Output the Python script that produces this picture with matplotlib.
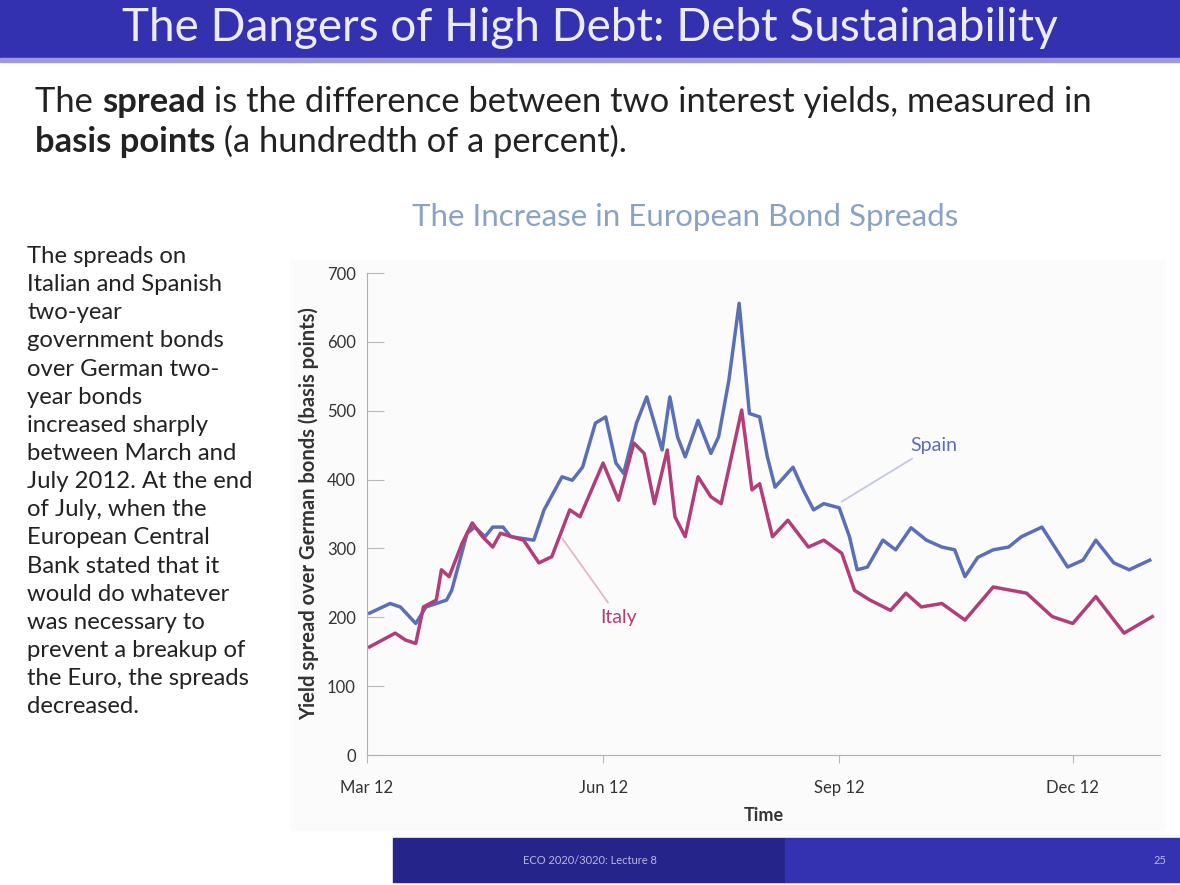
import matplotlib.pyplot as plt
import matplotlib.dates as mdates
from matplotlib.patches import Rectangle
import numpy as np

plt.rcParams['font.family'] = ['Lato', 'DejaVu Sans']

# data (basis points)
spain_dates = ['2012-03-02', '2012-03-10', '2012-03-14', '2012-03-20', '2012-03-24',
               '2012-04-01', '2012-04-03', '2012-04-09', '2012-04-12', '2012-04-16',
               '2012-04-19', '2012-04-23', '2012-04-26', '2012-05-05', '2012-05-09',
               '2012-05-16', '2012-05-20', '2012-05-24', '2012-05-29', '2012-06-02',
               '2012-06-06', '2012-06-09', '2012-06-14', '2012-06-18', '2012-06-21',
               '2012-06-24', '2012-06-27', '2012-06-30', '2012-07-03', '2012-07-08',
               '2012-07-13', '2012-07-16', '2012-07-20', '2012-07-24', '2012-07-28',
               '2012-08-01', '2012-08-04', '2012-08-07', '2012-08-14', '2012-08-18',
               '2012-08-22', '2012-08-26', '2012-09-01', '2012-09-05', '2012-09-08',
               '2012-09-12', '2012-09-18', '2012-09-23', '2012-09-29', '2012-10-05',
               '2012-10-11', '2012-10-16', '2012-10-20', '2012-10-25', '2012-10-31',
               '2012-11-06', '2012-11-11', '2012-11-19', '2012-11-29', '2012-12-05',
               '2012-12-10', '2012-12-17', '2012-12-23', '2012-12-31']
spain = [206, 220, 215, 191, 215, 225, 239, 322, 331, 317,
         331, 331, 317, 312, 356, 404, 399, 418, 482, 491,
         424, 409, 482, 520, 482, 443, 520, 462, 433, 486,
         438, 462, 544, 656, 496, 491, 433, 389, 418, 385,
         356, 365, 359, 317, 269, 273, 312, 298, 330, 312,
         302, 298, 259, 287, 298, 302, 317, 331, 273, 283,
         312, 279, 269, 283]

italy_dates = ['2012-03-02', '2012-03-12', '2012-03-16', '2012-03-20', '2012-03-23',
               '2012-03-28', '2012-03-30', '2012-04-02', '2012-04-07', '2012-04-11',
               '2012-04-15', '2012-04-19', '2012-04-22', '2012-05-01', '2012-05-07',
               '2012-05-12', '2012-05-19', '2012-05-23', '2012-06-01', '2012-06-07',
               '2012-06-13', '2012-06-17', '2012-06-21', '2012-06-26', '2012-06-29',
               '2012-07-03', '2012-07-08', '2012-07-13', '2012-07-17', '2012-07-25',
               '2012-07-29', '2012-08-01', '2012-08-06', '2012-08-12', '2012-08-20',
               '2012-08-26', '2012-09-02', '2012-09-07', '2012-09-13', '2012-09-21',
               '2012-09-27', '2012-10-03', '2012-10-11', '2012-10-20', '2012-10-31',
               '2012-11-13', '2012-11-23', '2012-12-01', '2012-12-10', '2012-12-21',
               '2013-01-01']
italy = [157, 177, 167, 162, 215, 225, 269, 259, 307, 337,
         317, 302, 322, 312, 279, 288, 356, 346, 424, 370,
         453, 438, 365, 443, 346, 317, 404, 375, 365, 501,
         385, 394, 317, 341, 302, 312, 293, 239, 225, 210,
         235, 215, 220, 196, 244, 235, 201, 191, 230, 177,
         201]

y_ticks = [0, 100, 200, 300, 400, 500, 600, 700]
x_ticks = ['2012-03-01', '2012-06-01', '2012-09-01', '2012-12-01']

side_text = ("The spreads on\nItalian and Spanish\ntwo-year\ngovernment bonds\n"
             "over German two-\nyear bonds\nincreased sharply\nbetween March and\n"
             "July 2012. At the end\nof July, when the\nEuropean Central\n"
             "Bank stated that it\nwould do whatever\nwas necessary to\n"
             "prevent a breakup of\nthe Euro, the spreads\ndecreased.")

W, H = 1180, 885
fig = plt.figure(figsize=(W / 100, H / 100), dpi=100)


def fx(px):
    return px / W


def fy(py):
    return 1 - py / H


def band(x0, y0, x1, y1, col):
    # rectangle given in pixel corners (top-left origin)
    fig.patches.append(Rectangle((fx(x0), fy(y1)), fx(x1 - x0), (y1 - y0) / H,
                                 transform=fig.transFigure, color=col, zorder=-5))


# slide decorations
band(0, 0, W, 58, '#3431b0')
band(0, 58, W, 62, '#9c9ad6')
band(290, 260, 1165, 830, '#fbfbfb')
band(393, 838, 785, 882, '#25248a')
band(785, 838, W, 882, '#3432b0')

fig.text(0.5, fy(28), 'The Dangers of High Debt: Debt Sustainability',
         ha='center', va='center', fontsize=33, color='#ececf8')

ax = fig.add_axes([fx(367), fy(755), fx(1160 - 367), (755 - 273) / H])
ax.set_facecolor('none')


def chain(pieces, x, y, size):
    prev = fig.text(x, y, pieces[0][0], fontsize=size, fontweight=pieces[0][1],
                    color='#222222', ha='left', va='center')
    for txt, weight in pieces[1:]:
        prev = ax.annotate(txt, xy=(1, 0), xycoords=prev, fontsize=size,
                           fontweight=weight, color='#222222',
                           ha='left', va='bottom', annotation_clip=False)


chain([('The ', 'normal'), ('spread', 'bold'),
       (' is the difference between two interest yields, measured in', 'normal')],
      fx(35), fy(102), 24.8)
chain([('basis points', 'bold'), (' (a hundredth of a percent).', 'normal')],
      fx(35), fy(142), 24.8)

fig.text(fx(27), fy(246), side_text, ha='left', va='top', fontsize=17.2,
         linespacing=1.42, color='#222222')

fig.text(fx(685), fy(217), 'The Increase in European Bond Spreads',
         ha='center', va='center', fontsize=22.5, color='#8aa3c4')

sd = np.array(spain_dates, dtype='datetime64[D]')
idt = np.array(italy_dates, dtype='datetime64[D]')
ax.plot(sd, spain, color='#5b6fb6', lw=2.5, solid_joinstyle='round')
ax.plot(idt, italy, color='#b23e79', lw=2.5, solid_joinstyle='round')

ax.annotate('Spain', xy=(np.datetime64('2012-09-02'), 368),
            xytext=(np.datetime64('2012-10-08'), 450), color='#5b6fb6',
            fontsize=14, ha='center', va='center',
            arrowprops=dict(arrowstyle='-', color='#c3c8e0', lw=1.3,
                            shrinkA=3, shrinkB=0))
ax.annotate('Italy', xy=(np.datetime64('2012-05-16'), 315),
            xytext=(np.datetime64('2012-06-07'), 200), color='#b23e79',
            fontsize=14, ha='center', va='center',
            arrowprops=dict(arrowstyle='-', color='#e0b8cc', lw=1.3,
                            shrinkA=3, shrinkB=0))

ax.set_ylim(0, 700)
ax.set_xlim(np.datetime64('2012-03-01'), np.datetime64('2013-01-04'))
ax.set_yticks(y_ticks)
ax.set_xticks(np.array(x_ticks, dtype='datetime64[D]'))
ax.xaxis.set_major_formatter(mdates.DateFormatter('%b %y'))
for s in ['top', 'right']:
    ax.spines[s].set_visible(False)
for s in ['left', 'bottom']:
    ax.spines[s].set_color('#b0b0b0')
ax.tick_params(axis='y', direction='in', length=12, pad=8,
               colors='#b8b8b8', labelcolor='#333333', labelsize=12)
ax.tick_params(axis='x', direction='out', length=6, pad=12,
               colors='#b8b8b8', labelcolor='#333333', labelsize=12)
ax.set_xlabel('Time', fontsize=13, color='#333333', fontweight='bold', labelpad=8)
ax.set_ylabel('Yield spread over German bonds (basis points)', fontsize=14.5,
              color='#333333', fontweight='bold', labelpad=6)

fig.text(fx(590), fy(860), 'ECO 2020/3020: Lecture 8', ha='center', va='center',
         fontsize=8, color='#b8b8e0')
fig.text(fx(1160), fy(860), '25', ha='center', va='center',
         fontsize=8, color='#b8b8e0')

fig.savefig('out.png', dpi=100)
